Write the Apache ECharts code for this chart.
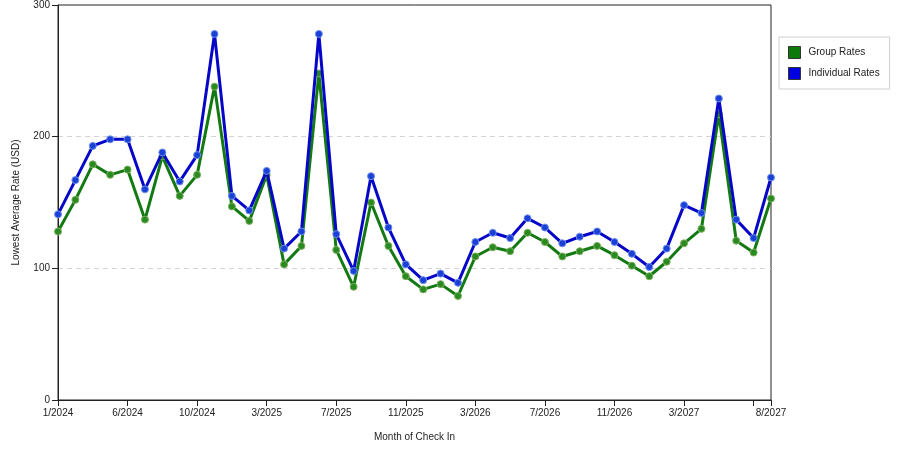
<!DOCTYPE html>
<html>
<head>
<meta charset="utf-8">
<script src="https://cdn.jsdelivr.net/npm/echarts@6/dist/echarts.min.js"></script>
<style>
  html, body { margin: 0; padding: 0; background: #fff; }
  #chart { width: 900px; height: 450px; }
</style>
</head>
<body>
<div id="chart"></div>
<script>
// month of check in (two months have no data)
var months = [
  '1/2024', '2/2024', '4/2024', '5/2024', '6/2024', '7/2024', '8/2024', '9/2024',
  '10/2024', '11/2024', '12/2024', '2/2025', '3/2025', '4/2025', '5/2025', '6/2025',
  '7/2025', '8/2025', '9/2025', '10/2025', '11/2025', '12/2025', '1/2026', '2/2026',
  '3/2026', '4/2026', '5/2026', '6/2026', '7/2026', '8/2026', '9/2026', '10/2026',
  '11/2026', '12/2026', '1/2027', '2/2027', '3/2027', '4/2027', '5/2027', '6/2027',
  '7/2027', '8/2027'
];

var groupRates = [
  128, 152, 179, 171, 175, 137, 185, 155, 171, 238, 147, 136,
  171, 103, 117, 248, 114, 86, 150, 117, 94, 84, 88, 79,
  109, 116, 113, 127, 120, 109, 113, 117, 110, 102, 94, 105,
  119, 130, 217, 121, 112, 153
];

var individualRates = [
  141, 167, 193, 198, 198, 160, 188, 166, 186, 278, 155, 144,
  174, 115, 128, 278, 126, 98, 170, 131, 103, 91, 96, 89,
  120, 127, 123, 138, 131, 119, 124, 128, 120, 111, 101, 115,
  148, 142, 229, 137, 123, 169
];

var yTicks = [0, 100, 200, 300];

var fontFam = '"Liberation Sans", Arial, sans-serif';
var lastIdx = months.length - 1;

var myChart = echarts.init(document.getElementById('chart'));

var option = {
  animation: false,
  backgroundColor: '#fff',
  textStyle: { fontFamily: fontFam },
  grid: {
    left: 58,
    right: 129,
    top: 5,
    bottom: 50,
    show: true,
    borderColor: '#222',
    borderWidth: 1
  },
  legend: {
    orient: 'vertical',
    left: 779,
    top: 37,
    width: 110,
    padding: [9, 10, 9, 9],
    itemGap: 8,
    itemWidth: 12,
    itemHeight: 12,
    icon: 'rect',
    borderColor: '#d0d0d0',
    borderWidth: 1,
    itemStyle: { borderColor: '#333', borderWidth: 1 },
    textStyle: { fontSize: 10, color: '#222', fontFamily: fontFam, padding: [0, 0, 0, 3] },
    data: [
      { name: 'Group Rates', itemStyle: { color: '#0b7a0b' } },
      { name: 'Individual Rates', itemStyle: { color: '#0000e0' } }
    ]
  },
  xAxis: {
    type: 'category',
    data: months,
    boundaryGap: false,
    name: 'Month of Check In',
    nameLocation: 'middle',
    nameGap: 32,
    nameTextStyle: { fontSize: 10, color: '#222' },
    axisLine: { lineStyle: { color: '#222', width: 1 } },
    axisTick: {
      length: 6,
      lineStyle: { color: '#222' },
      interval: function (i) { return i % 4 === 0 || i === lastIdx; }
    },
    axisLabel: {
      fontSize: 10,
      color: '#222',
      margin: 8,
      interval: function (i) { return (i % 4 === 0 && i <= 36) || i === lastIdx; }
    },
    splitLine: { show: false }
  },
  yAxis: {
    type: 'value',
    min: yTicks[0],
    max: yTicks[yTicks.length - 1],
    interval: 100,
    name: 'Lowest Average Rate (USD)',
    nameLocation: 'middle',
    nameGap: 37,
    nameRotate: 90,
    nameTextStyle: { fontSize: 10, color: '#222' },
    axisLine: { show: true, lineStyle: { color: '#222', width: 1 } },
    axisTick: { show: true, length: 6, lineStyle: { color: '#222' } },
    axisLabel: { fontSize: 10, color: '#222', margin: 8 },
    splitLine: {
      show: true,
      showMinLine: false,
      showMaxLine: false,
      lineStyle: { color: '#d4d4d4', type: [5, 4] }
    }
  },
  series: [
    {
      name: 'Group Rates',
      type: 'line',
      data: groupRates,
      symbol: 'circle',
      symbolSize: 7,
      lineStyle: { width: 3, color: '#137a13' },
      itemStyle: { color: '#2a8a22', borderColor: '#7cae5c', borderWidth: 1 },
      z: 2
    },
    {
      name: 'Individual Rates',
      type: 'line',
      data: individualRates,
      symbol: 'circle',
      symbolSize: 7,
      lineStyle: { width: 3, color: '#0606c8' },
      itemStyle: { color: '#1a40d8', borderColor: '#6d8fe8', borderWidth: 1 },
      z: 3
    }
  ]
};

myChart.setOption(option);
</script>
</body>
</html>
